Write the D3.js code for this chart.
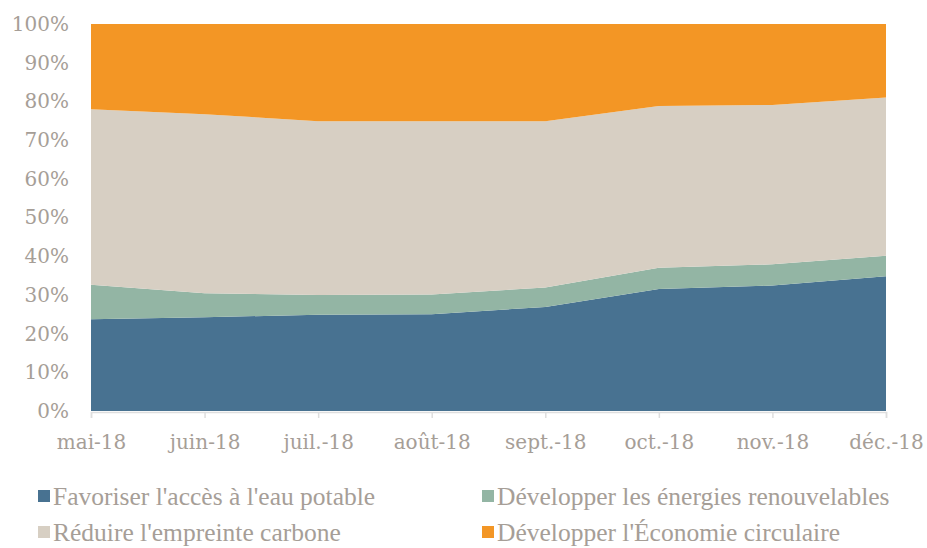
<!DOCTYPE html>
<html>
  <head>
    <meta charset="UTF-8">
    <title>Répartition mensuelle</title>
    <style>
      body { margin: 0; background: #fff; }
      .axis text, .legend text { fill: #a69e97; }
    </style>
  </head>
  <body>
    <svg id="chart" width="927" height="548"></svg>

    <script src="https://d3js.org/d3.v7.min.js" charset="utf-8"></script>
    <script>

// months on the x axis
var months = ["mai-18", "juin-18", "juil.-18", "août-18", "sept.-18", "oct.-18", "nov.-18", "déc.-18"];

// share of each theme, in %
var eauPotable   = [23.7, 24.2, 24.9, 25.0, 26.9, 31.5, 32.4, 34.8];
var energies     = [8.9, 6.2, 5.1, 5.1, 5.0, 5.5, 5.5, 5.3];
var carbone      = [45.4, 46.3, 44.9, 44.8, 43.0, 41.8, 41.2, 40.9];
var circulaire   = [22.0, 23.3, 25.1, 25.1, 25.1, 21.2, 20.9, 19.0];

var seriesNames = ["Favoriser l'accès à l'eau potable", "Développer les énergies renouvelables",
                   "Réduire l'empreinte carbone", "Développer l'Économie circulaire"];
var colors = ["#487291", "#93b5a4", "#d7cfc3", "#f39625"];
var yTicks = [0, 10, 20, 30, 40, 50, 60, 70, 80, 90, 100];

var margin = {top: 24, right: 41, bottom: 137, left: 91},
    width = 927 - margin.left - margin.right,
    height = 548 - margin.top - margin.bottom;

// build rows for d3.stack
var keys = ["eau", "energies", "carbone", "circulaire"];
var rows = months.map(function(m, i){
  return {month: m, eau: eauPotable[i], energies: energies[i], carbone: carbone[i], circulaire: circulaire[i]};
});

var stacked = d3.stack().keys(keys).offset(d3.stackOffsetExpand)(rows);

var x = d3.scalePoint().domain(months).range([0, width]);
var y = d3.scaleLinear().domain([0, 1]).range([height, 0]);

var svg = d3.select("#chart");
var g = svg.append("g").attr("transform", "translate(" + margin.left + "," + margin.top + ")");

var area = d3.area()
  .x(function(d){ return x(d.data.month); })
  .y0(function(d){ return y(d[0]); })
  .y1(function(d){ return y(d[1]); });

g.selectAll(".layer")
  .data(stacked)
  .enter().append("path")
    .attr("class", "layer")
    .attr("fill", function(d, i){ return colors[i]; })
    .attr("d", area);

// x axis
var xAxis = g.append("g")
  .attr("class", "axis")
  .attr("transform", "translate(0," + (height + 1) + ")")
  .call(d3.axisBottom(x).tickSize(6).tickPadding(17));
xAxis.select(".domain").attr("stroke", "#dedede").attr("stroke-width", 1.5);
xAxis.selectAll(".tick line").attr("stroke", "#dedede").attr("stroke-width", 1.5);
xAxis.selectAll("text")
  .style("font-family", "'DejaVu Serif', serif")
  .style("font-size", "20px");

// y axis
var yAxis = g.append("g")
  .attr("class", "axis")
  .call(d3.axisLeft(y).tickValues(yTicks.map(function(t){ return t / 100; }))
    .tickFormat(function(d){ return Math.round(d * 100) + "%"; })
    .tickSize(0).tickPadding(22));
yAxis.select(".domain").remove();
yAxis.selectAll("text")
  .style("font-family", "'DejaVu Serif', serif")
  .style("font-size", "20px");

// legend
var legend = svg.append("g").attr("class", "legend");
var legPos = [[38, 496], [482, 496], [38, 532], [482, 532]];
seriesNames.forEach(function(name, i){
  var lg = legend.append("g").attr("transform", "translate(" + legPos[i][0] + "," + legPos[i][1] + ")");
  lg.append("rect").attr("x", 0).attr("y", -6).attr("width", 12).attr("height", 12).attr("fill", colors[i]);
  lg.append("text").attr("x", 15).attr("y", 0).attr("dy", "0.35em")
    .style("font-family", "'Liberation Serif', 'Times New Roman', serif")
    .style("font-size", "25.5px")
    .text(name);
});

    </script>
  </body>
</html>
